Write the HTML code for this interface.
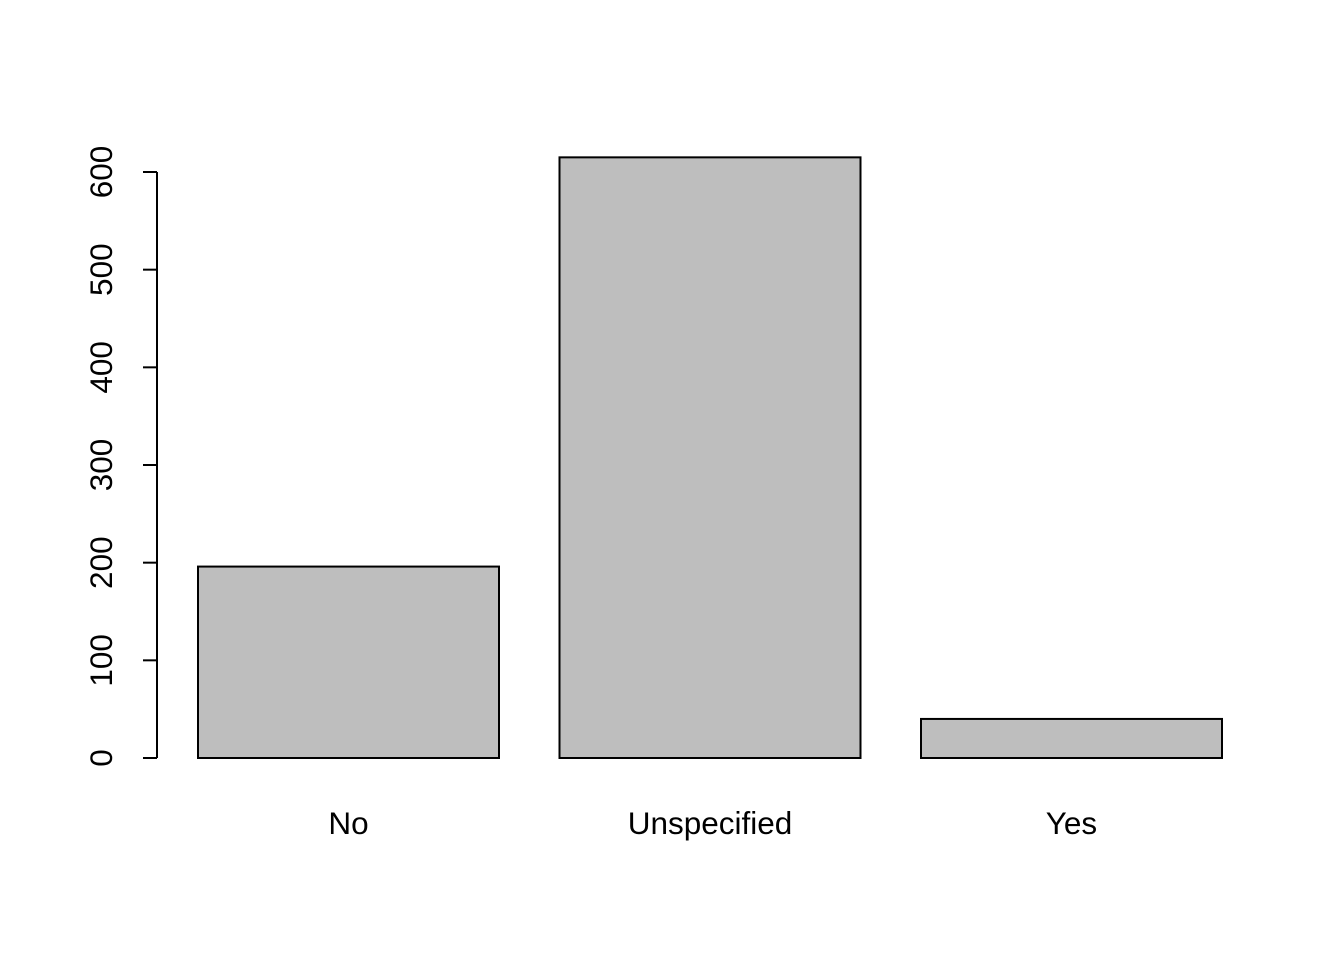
<!DOCTYPE html>
<html><head><meta charset="utf-8"><style>
html,body{margin:0;padding:0;background:#fff;}
svg{display:block;font-family:"Liberation Sans",Arial,sans-serif;}
</style></head><body>
<svg id="chart" width="1344" height="960" xmlns="http://www.w3.org/2000/svg">
<g id="bars"></g>
<g id="yaxis"></g>
<g id="xlabels"></g>
</svg>
<script>
const categories = ["No", "Unspecified", "Yes"];
const values = [196, 615, 40];
const yTicks = [0, 100, 200, 300, 400, 500, 600];
const tickLabels = ["0", "100", "200", "300", "400", "500", "600"];

const NS = "http://www.w3.org/2000/svg";
const y0 = 758, y600 = 172;
function yScale(v){ return y0 - v * (y0 - y600) / 600; }
const barStart = 198, barW = 301, barGap = 60.5;
function xScale(i){ return barStart + i * (barW + barGap); }

const bars = document.getElementById("bars");
categories.forEach((c, i) => {
  const r = document.createElementNS(NS, "rect");
  const top = yScale(values[i]);
  r.setAttribute("x", xScale(i));
  r.setAttribute("y", top);
  r.setAttribute("width", barW);
  r.setAttribute("height", y0 - top);
  r.setAttribute("fill", "#bebebe");
  r.setAttribute("stroke", "#000");
  r.setAttribute("stroke-width", "2");
  
  
  bars.appendChild(r);
  const t = document.createElementNS(NS, "text");
  t.setAttribute("x", xScale(i) + barW / 2);
  t.setAttribute("y", 834);
  t.setAttribute("text-anchor", "middle");
  t.setAttribute("font-size", "31.5");
  t.textContent = c;
  
  
  document.getElementById("xlabels").appendChild(t);
});

const ya = document.getElementById("yaxis");
const line = document.createElementNS(NS, "line");
line.setAttribute("x1", 157); line.setAttribute("x2", 157);
line.setAttribute("y1", yScale(yTicks[0])); line.setAttribute("y2", yScale(yTicks[yTicks.length-1]));
line.setAttribute("stroke", "#000"); line.setAttribute("stroke-width", "2");


ya.appendChild(line);
yTicks.forEach((v, i) => {
  const y = yScale(v);
  const tk = document.createElementNS(NS, "line");
  tk.setAttribute("x1", 143); tk.setAttribute("x2", 157);
  tk.setAttribute("y1", y); tk.setAttribute("y2", y);
  tk.setAttribute("stroke", "#000"); tk.setAttribute("stroke-width", "2");
  
  
  ya.appendChild(tk);
  const t = document.createElementNS(NS, "text");
  t.setAttribute("transform", "translate(112," + y + ") rotate(-90)");
  t.setAttribute("text-anchor", "middle");
  t.setAttribute("font-size", "31.5");
  t.textContent = tickLabels[i];
  
  
  ya.appendChild(t);
});
</script>
</body></html>
